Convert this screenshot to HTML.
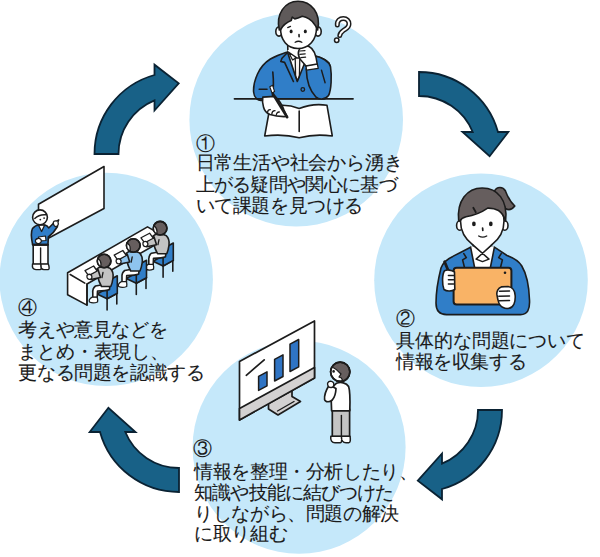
<!DOCTYPE html>
<html lang="ja">
<head>
<meta charset="utf-8">
<style>
html,body{margin:0;padding:0;background:#fff;}
body{width:600px;height:557px;position:relative;overflow:hidden;font-family:"Liberation Sans",sans-serif;color:#1a1a1a;}
svg.bg{position:absolute;left:0;top:0;}
.t{position:absolute;font-size:19px;line-height:20px;white-space:nowrap;letter-spacing:-0.4px;-webkit-text-stroke:0.1px #1a1a1a;}
</style>
</head>
<body>
<svg class="bg" width="600" height="557" viewBox="0 0 600 557">
<defs>
<g id="stu">
<line x1="107.1" y1="297" x2="107.1" y2="310"/>
<line x1="116.8" y1="292.5" x2="116.8" y2="304"/>
<path fill="#307ec8" d="M97,294 L107.1,298.8 L117.3,293.2 L107.5,288.3 Z"/>
<path fill="#307ec8" d="M107.1,281.5 L117.3,275.8 L117.3,293.2 L107.1,298.8 Z"/>
<path fill="#fff" d="M110,283.5 C106,284.5 100,285 95.5,286 C93.5,287.5 92.5,290 92.8,293 L92.8,297.5 L97.2,297.5 L97.5,291 C101,291 106.5,291 109.5,289.5 Z"/>
<path fill="#fff" d="M92.2,297.2 C89.5,298.5 88.6,300.5 89.5,302 C91.5,303 95.5,302.8 97.5,302 C98,300.5 97.6,298.5 97.2,297.2 Z" stroke-width="1.3"/>
<path fill="currentColor" d="M97,268.8 C99.5,266.2 106,265.8 110.2,268.4 C112.8,270.8 113.4,275 113,278 C112.6,281 112,284 110.8,286.5 L101.5,286.5 C99.5,283 98.2,279 97.4,275.5 C96.8,273 96.6,270.5 97,268.8 Z"/>
<path fill="currentColor" d="M98,269.5 L89,275 L90.8,279.5 L100.5,277.5 Z"/>
<path fill="#fff" d="M85,270.6 L93.6,266 L97.2,271 L88.6,275.6 Z" stroke-width="1.3"/>
<path fill="#fff" d="M87,275.5 C86.5,278 88,279.8 90.2,279.3 C92,278.8 92.5,276.5 91.2,275 C89.8,274 88,274.2 87,275.5 Z" stroke-width="1.3"/>
<path fill="none" d="M103,272.5 L102,277.5" stroke-width="1.3"/>
<circle cx="104.1" cy="261" r="6.8" fill="#665e5e"/>
<path fill="#fff" d="M97.6,258.5 C99.5,259.5 101,261.5 101,264 L100.5,266.8 C98.5,265.8 97.3,263.8 97.1,261 Z" stroke="none"/>
<path fill="none" d="M97.6,258.3 C99.5,259.5 101,261.5 101,264 L100.8,266.5" stroke-width="1.3"/>
<circle cx="104.1" cy="261" r="6.8" fill="none"/>
</g>
<path id="arw" d="M0,0 A82,82 0 0 1 79,60 L89.3,60 L70.6,84.2 L43.5,60 L53.7,60 A58,58 0 0 0 0,24 Z"/>
</defs>
<g fill="#c5e8fa">
<circle cx="296.2" cy="119.7" r="106.8"/>
<circle cx="481" cy="280.3" r="106.8"/>
<circle cx="299.1" cy="447.3" r="106.5"/>
<circle cx="106.2" cy="279.4" r="106.7"/>
</g>
<g fill="#186187" stroke="#0a2233" stroke-width="1.8" stroke-linejoin="miter">
<use href="#arw" transform="translate(419,72)"/>
<use href="#arw" transform="translate(502,410) rotate(90)"/>
<use href="#arw" transform="translate(179,492) rotate(180)"/>
<use href="#arw" transform="translate(94.5,154) rotate(270)"/>
</g>
<!--ILL1-->
<g id="man" stroke="#1c1c1c" stroke-width="1.6" stroke-linejoin="round" stroke-linecap="round">
<path fill="#fff" stroke="none" d="M287,40 L301,40 L301,57 L287.5,57 Z"/>
<path fill="none" d="M287.7,44 L287.9,52.5"/>
<path fill="#307ec8" d="M262.5,100.2 C258.3,101.2 254.2,98.5 253.6,92 C253.2,86 254.8,80 257.5,74 C260,68.5 264,63 270.4,59 C276,55.8 281,54 286.5,52.2 L313,55.5 C320,57 326,59.5 329,63 C331,67 330.5,80 325,98.8 L262.8,98.8 Z"/>
<line x1="234.5" y1="98.8" x2="353" y2="98.8" stroke-width="1.8"/>
<path fill="#fff" d="M287.5,50 L297.3,81.5 L305,63 L306,53 L300,50 Z" stroke="none"/>
<path fill="#fff" d="M288.4,52 L292.6,60 L296.5,57.6 Z" stroke-width="1.3"/>
<path fill="#fbf5f2" d="M295.2,58 L299.8,58 L299.4,76.5 L297.4,80.5 L295.6,76.5 Z" stroke-width="1.3"/>
<path fill="none" d="M287.6,52.5 L297.3,81.5 L304.5,63.5"/>
<path fill="none" d="M286.5,53.5 L282,58.2 L280.8,61.5 L284.6,62.4 L293.4,81.5"/>
<path fill="none" d="M272.8,72 C273.6,80 273.6,89 272.5,96"/>
<path fill="none" d="M259.2,89.2 L267,89.2"/>
<circle cx="302.8" cy="89.5" r="1.8" fill="none" stroke-width="1.3"/>
<path fill="#307ec8" d="M306.3,69 C306.5,80 310,91 316.1,97.2 C318.5,99.5 325,100.2 328.5,95.5 C331.5,90 331.8,75 330.5,66.7 C329,61.5 322,57 314.3,55.9 Z"/>
<path fill="none" d="M321.5,70.2 L325.1,82.8" stroke-width="1.4"/>
<path fill="#fff" d="M306,65.6 L317.3,63.6 L318.2,68.3 L306.5,70.2 Z" stroke-width="1.3"/>
<path fill="#fff" d="M299,50 C300,46.5 305,45 309,46.5 C313.5,48.5 316,54 317.2,64 L305.8,66 C304,63 301,61 299.5,58 C298,55 298,52.5 299,50 Z"/>
<path fill="none" d="M300,51 L305,50.6 M299.8,54.3 L305.2,53.8 M300.8,57.6 L305.6,57.2" stroke-width="1.2"/>
<!-- head -->
<ellipse cx="279" cy="31.5" rx="3.2" ry="4.6" fill="#fff"/>
<ellipse cx="318" cy="31.5" rx="3.2" ry="4.6" fill="#fff"/>
<path fill="#fff" d="M280.5,28 C280.5,40 287,48.5 298,48.5 C309,48.5 316.5,40 316.5,28 C316.5,14 309,8 298,8 C287,8 280.5,14 280.5,28 Z"/>
<path fill="#5f5a5a" d="M279.3,30 C275.5,14 285,1.2 298,1.2 C311,1.2 321.5,13 317.6,30 C316.8,27.5 315.6,25.5 314.2,24 C311.5,20 307,17 302.3,16.2 C299.5,17.5 297,18.5 294.8,18.9 L292.2,17.2 L291.2,20.6 C286.5,22.5 283,25.5 280.6,29.5 Z"/>
<ellipse cx="291.1" cy="31.4" rx="1.5" ry="1.9" fill="#1c1c1c" stroke="none"/>
<ellipse cx="305.3" cy="31.4" rx="1.5" ry="1.9" fill="#1c1c1c" stroke="none"/>
<path fill="none" d="M287.7,27.6 L290.5,26.4" stroke-width="1.3"/>
<path fill="none" d="M299,34.6 L299.1,36.8" stroke-width="1.6"/>
<path fill="none" d="M295.2,42.3 Q298.4,40.2 301.8,42.3" stroke-width="1.3"/>
<!-- notebook -->
<path fill="#fff" d="M270,107 Q285,103 299.2,108.5 Q313,103 327,105.3 L332.3,136 Q315,133.5 299.2,137.8 Q283,133.5 264.7,136 Z"/>
<line x1="299.2" y1="111" x2="299.2" y2="131.5"/>
<!-- writing hand -->
<path fill="#fff" d="M262.8,97.1 L275,96.4 C279,100 282.5,106 284,110 L287,116.5 C281,116.8 275,116.2 270,114.6 C266.5,113 264.3,110.5 263.5,107 C262.6,104 262.3,100 262.8,97.1 Z"/>
<path fill="none" d="M267.5,112.3 C267.8,110.5 269,109.5 270.3,109.6 M271.8,114 C272,112 273.3,110.5 275,110.6 M276.3,115 C276.5,113 277.6,111.8 279.3,112" stroke-width="1.3"/>
<line x1="272.8" y1="93.8" x2="287.2" y2="117.2" stroke-width="2.6"/>
<path fill="#fff" d="M269.8,86.8 L272.6,85.3 L274.6,91.6 L272,93 Z" stroke-width="1.1"/>
<!-- question mark -->
<path fill="none" stroke-width="5" d="M337.3,25 C337,20.5 340,18.5 343.3,18.5 C346.8,18.5 349,21 349,24 C349,28 345.5,29 343,30.8 C340.8,32.3 340,33.8 339.8,35.5"/>
<path fill="none" stroke="#fff" stroke-width="2" d="M337.3,25 C337,20.5 340,18.5 343.3,18.5 C346.8,18.5 349,21 349,24 C349,28 345.5,29 343,30.8 C340.8,32.3 340,33.8 339.8,35.5"/>
<circle cx="336.7" cy="40.3" r="2.2" fill="#fff" stroke-width="1.5"/>
</g>
<!--/ILL1-->
<!--ILL2-->
<g id="woman" stroke="#1c1c1c" stroke-width="1.6" stroke-linejoin="round" stroke-linecap="round">
<path fill="#307ec8" d="M470.6,247.2 L452.8,256.4 C446,259.5 442.5,263.5 441,268 C438,280 436,292 436,303 C436,309.5 439,314.6 446.5,314.6 L520.5,314.6 C527.5,314.6 530,309.5 529.5,300 C529,285 526,273 521.8,266 C518.5,260.5 512.5,257.5 507,255.5 L494.4,247.2 Z"/>
<path fill="#fff" stroke="none" d="M470.6,246.5 L494.4,246.5 L490.3,268 L474.7,268 Z"/>
<!-- head -->
<ellipse cx="459.8" cy="225.5" rx="3.2" ry="4.8" fill="#fff"/>
<ellipse cx="504.8" cy="225.5" rx="3.2" ry="4.8" fill="#fff"/>
<path fill="#fff" d="M460.5,221 C460.5,231 464.5,238.5 472.8,244.8 L482.3,252 L491.7,244.8 C500,238.5 504,231 504,221 C504,208 495,201 482.2,201 C469.5,201 460.5,208 460.5,221 Z"/>
<path fill="#665e5e" d="M494.5,191 C497,186 503,186.5 505.5,191 C507,195 508.5,200 514.8,206 C512,209.5 508.5,210.5 505.5,208.5 Z"/>
<path fill="#665e5e" d="M458.7,221 C456.5,201 467,188 482.2,188 C497.5,188 508,200 505.6,221 C504,216 501.5,212.5 498.5,210.5 C495,208.5 491,208 487.7,208.1 C482,212 474,215.5 466,216.8 C463.5,217.5 461,219 459.8,221 Z"/>
<path fill="none" d="M473.3,207.8 L475.8,212.3" stroke-width="1.8"/>
<ellipse cx="473.9" cy="223.9" rx="1.85" ry="2.4" fill="#1c1c1c" stroke="none"/>
<ellipse cx="490.8" cy="223.9" rx="1.85" ry="2.4" fill="#1c1c1c" stroke="none"/>
<path fill="none" d="M482.6,228 L482.8,230.4" stroke-width="1.7"/>
<path fill="none" d="M478.7,236 Q482.7,238.3 486.7,236" stroke-width="1.4"/>
<!-- collar -->
<path fill="#fff" d="M472.6,244.6 L489,259.1 L482.5,261.6 L476.1,259.1 L492,244.6" stroke-width="1.5"/>
<path fill="none" d="M470.6,247.2 L474.7,268 M463.8,253.6 L466.3,257.6 L462.6,259.9 L464.5,267.5 M494.4,247.2 L490.3,268 M501.2,253.6 L498.7,257.6 L502.4,259.9 L500.5,267.5"/>
<!-- tablet -->
<rect x="453.6" y="267.8" width="57.8" height="36.8" rx="3" fill="#f9b366" stroke-width="2"/>
<circle cx="505" cy="272.8" r="1.3" fill="#1c1c1c" stroke="none"/>
<!-- left hand + pen -->
<line x1="444.6" y1="261.8" x2="448.6" y2="271.5" stroke-width="2.8"/>
<path fill="#fff" d="M444.5,270.8 C442,274.5 442,285 444,289.5 C447,291.8 452,291.2 454.8,289.5 L454.5,272 C451.5,270 447,269.5 444.5,270.8 Z"/>
<path fill="none" d="M448.4,275.5 L453.6,275.5 M448.4,279.8 L453.6,279.8 M448.4,284.1 L453.6,284.1" stroke-width="1.5"/>
<!-- right hand -->
<path fill="#fff" d="M501.3,286.9 C498,288 496.5,292 496.9,294.5 C497.5,297 497.5,299 498.2,300.5 C498.5,302.5 499,304 500,305 C502,307.5 506,308.8 509,308.3 C513.5,307.5 515.5,302 515.2,295.7 C515,290.5 512,287 508,286.5 Z"/>
<path fill="none" d="M499.5,291.3 L509.5,291 M498.8,296.2 L509.5,296 M499.4,300.8 L509.5,300.6" stroke-width="1.5"/>
</g>
<!--/ILL2-->
<!--ILL3-->
<g id="monitor" stroke="#1c1c1c" stroke-width="1.7" stroke-linejoin="round" stroke-linecap="round">
<path fill="#d3d1d1" d="M268.5,404 L268.5,409 L278,415 L300.5,401.5 L292,396.5 L292,391"/>
<path fill="none" d="M277.5,411 L294,401.5" stroke-width="1.4"/>
<path fill="#fff" d="M239.5,361.5 L314.5,321 L314.5,378 L239.5,420 Z"/>
<path fill="#d3d1d1" d="M239.5,408.5 L314.5,367.5 L314.5,378 L239.5,420 Z"/>
<path fill="none" d="M246.3,375.3 L264.2,359.9" stroke-width="1.7"/>
<path fill="#2f74c4" d="M258.6,376.3 L267,371.8 L267,385.8 L258.6,390.4 Z" stroke-width="1.5"/>
<path fill="#2f74c4" d="M274.6,359.3 L283,354.8 L283,376.5 L274.6,381 Z" stroke-width="1.5"/>
<path fill="#2f74c4" d="M290,344.2 L298.7,339.5 L298.7,366.8 L290,371.5 Z" stroke-width="1.5"/>
<!-- person -->
<path fill="#c4c4c4" d="M332.3,409 L332.3,436.5 L349.6,436.5 L349.6,409 Z"/>
<path fill="none" d="M341.4,415.5 L341.4,436" stroke-width="1.4"/>
<path fill="#fff" d="M330.8,436.3 C330.2,440.5 332,442.8 335,442.8 L340.3,442.8 C341.8,442.8 341.9,440 341.4,436.3 Z M341.4,436.3 C341.2,440.5 343,442.8 346,442.8 L348.8,442.8 C350.4,442.8 350.6,440 350.1,436.3 Z" stroke-width="1.5"/>
<path fill="#fff" d="M331.6,410.8 L331.2,400 C331,392 332.5,385.5 336.5,383.3 C340.5,381.7 346.5,382.5 348.6,386.5 C350.2,391 350.1,402 349.8,410.8 Z"/>
<path fill="#fff" d="M329.2,385 C326.5,389.5 324,395.5 324.6,399.5 C325.5,402.5 329.8,402.3 332.3,400 C334.5,397.5 335.8,393.5 336,388.5 Z"/>
<path fill="#fff" d="M327.6,383.2 C327.2,386 329,387.6 331.3,387.5 C333.5,387.3 334.3,385 333.6,383 C332.8,381.2 330.3,380.8 328.8,381.6 Z" stroke-width="1.4"/>
<circle cx="340.2" cy="371.8" r="9.6" fill="#fff"/>
<path fill="#665e5e" d="M332.2,367 C334,364 337,362.3 340.2,362.3 C345.6,362.3 349.8,366.5 349.8,371.8 C349.8,376.5 347,380.3 343.5,381.2 C342.5,380 341.6,379.2 341.4,378 L339,377 L341,374 C338.5,371 335.5,368.5 332.2,367 Z" stroke-width="1.3"/>
<circle cx="340.2" cy="371.8" r="9.6" fill="none"/>
<circle cx="333.6" cy="371.4" r="1.3" fill="#1c1c1c" stroke="none"/>
</g>
<!--/ILL3-->
<!--ILL4-->
<g id="classroom" stroke="#1c1c1c" stroke-width="1.6" stroke-linejoin="round" stroke-linecap="round">
<!-- whiteboard -->
<path fill="#fff" d="M38.5,204.2 L104,166.5 L104,208.5 L38.5,243.5 Z"/>
<!-- teacher -->
<path fill="#fff" d="M33.2,245 L33.2,264.5 L48,264.5 L48,245 Z"/>
<path fill="none" d="M40.6,248 L40.6,264" stroke-width="1.4"/>
<path fill="#fff" d="M32.5,264 C32,267.5 33,269.6 36,269.6 L40.4,269.6 C41.3,269.6 41.3,266.5 40.8,264 Z M40.8,264 C40.6,267.5 41.5,269.6 44,269.6 L48.2,269.6 C49.5,269.6 49.3,266.5 48.3,264 Z" stroke-width="1.4"/>
<path fill="#307ec8" d="M32.6,244.5 C31.2,238 30.8,232 32.5,228.5 C34.5,226 37.5,225 40,224.8 L45,225 C47,225.6 48,226.5 48.7,228 L53.5,223.2 L57.5,226.5 C55.5,230 52.5,234 48.3,237 L48,244.5 Z"/>
<path fill="#fff" d="M38.5,225.2 L41.6,231.5 L44.6,225.2 Z" stroke-width="1.3"/>
<path fill="none" d="M32.8,244.8 L48,244.8" stroke-width="2"/>
<path fill="#fff" d="M38.5,237 L45.5,236 L46,240.5 L39.5,241 Z" stroke-width="1.2"/>
<path fill="#fff" d="M35.5,240 C35,242.5 36.5,243.8 39,243.5 C41.5,243 42,240.5 40.5,239 C39,238 36.5,238.3 35.5,240 Z" stroke-width="1.3"/>
<path fill="#fff" d="M53.3,223.6 C53,221.5 54.5,220.5 56.5,221 L58.8,219.8 L58,222.2 C58.8,224 58,226.2 56,226.6 C54.8,226.6 53.8,225.3 53.3,223.6 Z" stroke-width="1.3"/>
<circle cx="40" cy="217.3" r="7.4" fill="#fff"/>
<path fill="none" d="M34.8,218.6 C37.5,215.8 42,214.3 46.2,214.8" stroke-width="1.4"/>
<circle cx="40.3" cy="219.6" r="0.9" fill="#1c1c1c" stroke="none"/>
<circle cx="44.1" cy="218.1" r="0.9" fill="#1c1c1c" stroke="none"/>
<!-- desk -->
<path fill="#fff" d="M67.6,272.8 L147.5,226.9 L167,238 L87,284 L87,305.1 L67.6,294.8 Z"/>
<path fill="none" d="M70.2,274.5 L84.8,283.1"/>
<path fill="none" d="M87,284 L87,305.1"/>
<use href="#stu" transform="translate(56,-32.8)" color="#c3c3c3"/>
<use href="#stu" transform="translate(29.2,-15.5)" color="#8ec4ee"/>
<use href="#stu" color="#c3c3c3"/>
</g>
<!--/ILL4-->
<!--ILLUS-->
</svg>
<div class="t" style="left:196px;top:133.5px">①</div>
<div class="t" style="left:195.5px;top:153px;letter-spacing:-0.2px">日常生活や社会から湧き</div>
<div class="t" style="left:195.5px;top:174.5px;letter-spacing:-0.7px">上がる疑問や関心に基づ</div>
<div class="t" style="left:195.5px;top:196px">いて課題を見つける</div>
<div class="t" style="left:395.7px;top:309.4px">②</div>
<div class="t" style="left:396px;top:331.3px;letter-spacing:-0.1px">具体的な問題について</div>
<div class="t" style="left:396px;top:352.1px">情報を収集する</div>
<div class="t" style="left:193px;top:439px">③</div>
<div class="t" style="left:194.2px;top:461.6px">情報を整理・分析したり、</div>
<div class="t" style="left:194.2px;top:482.8px;letter-spacing:-0.87px">知識や技能に結びつけた</div>
<div class="t" style="left:194.2px;top:504px">りしながら、問題の解決</div>
<div class="t" style="left:194.2px;top:523.5px">に取り組む</div>
<div class="t" style="left:18.4px;top:298.4px">④</div>
<div class="t" style="left:18.4px;top:319.6px">考えや意見などを</div>
<div class="t" style="left:18.4px;top:341.5px;letter-spacing:-0.2px">まとめ・表現し、</div>
<div class="t" style="left:18.4px;top:363px">更なる問題を認識する</div>
</body>
</html>
